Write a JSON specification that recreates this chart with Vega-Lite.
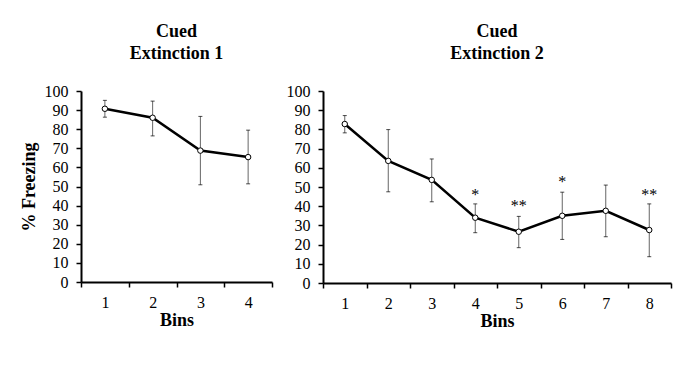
{
  "$schema": "https://vega.github.io/schema/vega-lite/v6.json",
  "padding": {"left": 20, "top": 23, "right": 5, "bottom": 5},
  "background": "white",
  "spacing": 13,
  "config": {
    "font": "Liberation Serif",
    "view": {"stroke": null},
    "axis": {
      "domainColor": "black", "domainWidth": 2, "tickColor": "black", "tickWidth": 1.5, "tickSize": 5,
      "labelFont": "Liberation Serif", "labelFontSize": 16, "labelColor": "black",
      "titleFont": "Liberation Serif", "titleFontSize": 18, "titleFontWeight": "bold", "titleColor": "black",
      "grid": false
    },
    "title": {"font": "Liberation Serif", "fontSize": 18, "fontWeight": "bold", "color": "black", "lineHeight": 22, "offset": 20}
  },
  "datasets": {
    "ext1": [
      {"bin": 1, "freezing": 90.7, "lo": 86.3, "hi": 95.1},
      {"bin": 2, "freezing": 86.0, "lo": 76.5, "hi": 94.7},
      {"bin": 3, "freezing": 68.8, "lo": 50.9, "hi": 86.7},
      {"bin": 4, "freezing": 65.4, "lo": 51.4, "hi": 79.5}
    ],
    "ext2": [
      {"bin": 1, "freezing": 82.8, "lo": 78.2, "hi": 87.2},
      {"bin": 2, "freezing": 63.6, "lo": 47.5, "hi": 79.9},
      {"bin": 3, "freezing": 53.7, "lo": 42.3, "hi": 64.6},
      {"bin": 4, "freezing": 34.0, "lo": 26.2, "hi": 41.2},
      {"bin": 5, "freezing": 26.7, "lo": 18.4, "hi": 34.7},
      {"bin": 6, "freezing": 35.0, "lo": 22.7, "hi": 47.3},
      {"bin": 7, "freezing": 37.6, "lo": 24.1, "hi": 51.0},
      {"bin": 8, "freezing": 27.6, "lo": 13.7, "hi": 41.2}
    ],
    "stars": [
      {"bin": 4, "y": 46.0, "label": "*"},
      {"bin": 5, "y": 40.2, "label": "**"},
      {"bin": 6, "y": 52.6, "label": "*"},
      {"bin": 8, "y": 46.0, "label": "**"}
    ]
  },
  "hconcat": [
    {
      "title": {"text": ["Cued", "Extinction 1"]},
      "width": 191,
      "height": 191,
      "data": {"name": "ext1"},
      "encoding": {
        "x": {"field": "bin", "type": "ordinal", "scale": {"paddingInner": 0, "paddingOuter": 0},
              "axis": {"title": "Bins", "labelAngle": 0, "tickBand": "extent", "labelPadding": 7, "titlePadding": 1}},
        "y": {"field": "freezing", "type": "quantitative", "scale": {"domain": [0, 100]},
              "axis": {"title": "% Freezing", "values": [0,10,20,30,40,50,60,70,80,90,100], "labelOverlap": false, "labelPadding": 8, "titlePadding": 6}}
      },
      "layer": [
        {"mark": {"type": "rule", "color": "#666", "strokeWidth": 1},
         "encoding": {"y": {"field": "lo", "type": "quantitative"}, "y2": {"field": "hi"}}},
        {"mark": {"type": "tick", "color": "black", "size": 4, "thickness": 1},
         "encoding": {"y": {"field": "lo", "type": "quantitative"}}},
        {"mark": {"type": "tick", "color": "black", "size": 4, "thickness": 1},
         "encoding": {"y": {"field": "hi", "type": "quantitative"}}},
        {"mark": {"type": "line", "color": "black", "strokeWidth": 2.5}},
        {"mark": {"type": "point", "filled": true, "fill": "white", "stroke": "black", "strokeWidth": 1, "size": 30, "opacity": 1}}
      ]
    },
    {
      "title": {"text": ["Cued", "Extinction 2"]},
      "width": 348,
      "height": 192,
      "encoding": {
        "x": {"field": "bin", "type": "ordinal", "scale": {"paddingInner": 0, "paddingOuter": 0},
              "axis": {"title": "Bins", "labelAngle": 0, "tickBand": "extent", "labelPadding": 7, "titlePadding": 1}},
        "y": {"field": "freezing", "type": "quantitative", "scale": {"domain": [0, 100]},
              "axis": {"title": null, "values": [0,10,20,30,40,50,60,70,80,90,100], "labelOverlap": false, "labelPadding": 8}}
      },
      "layer": [
        {"data": {"name": "ext2"}, "mark": {"type": "rule", "color": "#666", "strokeWidth": 1},
         "encoding": {"y": {"field": "lo", "type": "quantitative"}, "y2": {"field": "hi"}}},
        {"data": {"name": "ext2"}, "mark": {"type": "tick", "color": "black", "size": 4, "thickness": 1},
         "encoding": {"y": {"field": "lo", "type": "quantitative"}}},
        {"data": {"name": "ext2"}, "mark": {"type": "tick", "color": "black", "size": 4, "thickness": 1},
         "encoding": {"y": {"field": "hi", "type": "quantitative"}}},
        {"data": {"name": "ext2"}, "mark": {"type": "line", "color": "black", "strokeWidth": 2.5}},
        {"data": {"name": "ext2"}, "mark": {"type": "point", "filled": true, "fill": "white", "stroke": "black", "strokeWidth": 1, "size": 30, "opacity": 1}},
        {"data": {"name": "stars"}, "mark": {"type": "text", "fontSize": 16, "fill": "black", "baseline": "middle", "dy": 0},
         "encoding": {"y": {"field": "y", "type": "quantitative"}, "text": {"field": "label"}}}
      ]
    }
  ]
}
